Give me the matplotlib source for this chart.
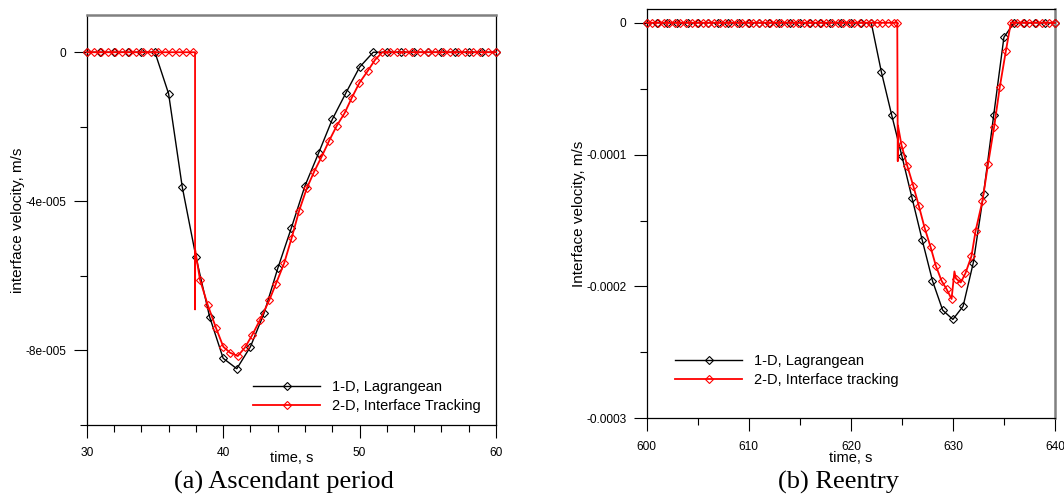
import matplotlib
matplotlib.use("Agg")
import matplotlib.pyplot as plt
from matplotlib.ticker import FixedLocator, FixedFormatter

plt.rcParams['font.family'] = ['Liberation Sans', 'DejaVu Sans']

# ---------- (a) Ascendant period ----------
lag_a_t = [30, 31, 32, 33, 34, 35, 36, 37, 38, 39, 40, 41, 42, 43, 44, 45,
           46, 47, 48, 49, 50, 51, 52, 53, 54, 55, 56, 57, 58, 59, 60]
lag_a_v = [0, 0, 0, 0, 0, 0, -1.11e-5, -3.61e-5, -5.48e-5, -7.09e-5, -8.21e-5,
           -8.49e-5, -7.90e-5, -7.00e-5, -5.80e-5, -4.71e-5, -3.58e-5, -2.70e-5,
           -1.80e-5, -1.09e-5, -0.40e-5, 0, 0, 0, 0, 0, 0, 0, 0, 0, 0]

trk_a_t = [30.0, 30.52, 31.04, 31.56, 32.08, 32.6, 33.12, 33.64, 34.16, 34.68,
           35.2, 35.72, 36.24, 36.76, 37.28, 37.8, 37.94, 37.94, 37.95,
           38.3, 38.87, 39.48, 40.01, 40.5, 41.07, 41.6, 42.14, 42.7, 43.37,
           43.86, 44.47, 45.03, 45.57, 46.13, 46.66, 47.22, 47.76, 48.33, 48.89,
           49.43, 49.99, 50.58, 51.14, 51.67, 52.2, 52.76, 53.31, 53.87, 54.42,
           54.98, 55.53, 56.09, 56.64, 57.2, 57.75, 58.31, 58.86, 59.42, 60.0]
trk_a_v = [0, 0, 0, 0, 0, 0, 0, 0, 0, 0, 0, 0, 0, 0, 0, 0, 0, -6.9e-5, -5.3e-5,
           -6.1e-5, -6.78e-5, -7.40e-5, -7.90e-5, -8.06e-5, -8.15e-5, -7.92e-5,
           -7.58e-5, -7.18e-5, -6.66e-5, -6.22e-5, -5.66e-5, -4.97e-5, -4.25e-5,
           -3.65e-5, -3.21e-5, -2.80e-5, -2.38e-5, -1.97e-5, -1.64e-5, -1.22e-5,
           -0.82e-5, -0.51e-5, -0.20e-5, 0, 0, 0, 0, 0, 0, 0, 0, 0, 0, 0, 0, 0,
           0, 0, 0]
trk_a_nomark = [16, 17, 18]   # jump at interface appearance, drawn without symbols

# ---------- (b) Reentry ----------
lag_b_t = [600, 601, 602, 603, 604, 605, 606, 607, 608, 609, 610, 611, 612, 613,
           614, 615, 616, 617, 618, 619, 620, 621, 622, 623, 624, 625, 626, 627,
           628, 629, 630, 631, 632, 633, 634, 635, 636, 637, 638, 639, 640]
lag_b_v = [0] * 23 + [-3.76e-5, -6.99e-5, -1.01e-4, -1.33e-4, -1.65e-4, -1.957e-4,
                      -2.18e-4, -2.25e-4, -2.15e-4, -1.82e-4, -1.30e-4, -0.70e-4,
                      -0.11e-4, 0, 0, 0, 0, 0]

trk_b_t = [600.0, 600.55, 601.1, 601.65, 602.2, 602.75, 603.3, 603.85, 604.4,
           604.95, 605.5, 606.05, 606.6, 607.15, 607.7, 608.25, 608.8, 609.35,
           609.9, 610.45, 611.0, 611.55, 612.1, 612.65, 613.2, 613.75, 614.3,
           614.85, 615.4, 615.95, 616.5, 617.05, 617.6, 618.15, 618.7, 619.25,
           619.8, 620.35, 620.9, 621.45, 622.0, 622.55, 623.1, 623.65, 624.2,
           624.55, 624.6, 624.62,
           624.97, 625.52, 626.11, 626.67, 627.22, 627.81, 628.33, 628.89, 629.38,
           629.87, 630.15, 630.3, 630.77, 631.23, 631.82, 632.22, 632.9, 633.45,
           634.04, 634.6, 635.19, 635.68, 636.3, 636.9, 637.5, 638.1, 638.75,
           639.4, 640.0]
trk_b_v = [0] * 46 + [-1.05e-4, -0.78e-4,
                      -0.93e-4, -1.083e-4, -1.235e-4, -1.39e-4, -1.553e-4, -1.70e-4,
                      -1.843e-4, -1.957e-4, -2.02e-4, -2.095e-4, -1.886e-4, -1.94e-4,
                      -1.97e-4, -1.90e-4, -1.77e-4, -1.58e-4, -1.35e-4, -1.07e-4,
                      -0.79e-4, -0.485e-4, -0.214e-4, 0, 0, 0, 0, 0, 0, 0, 0]
trk_b_nomark = [46, 47, 58]

fig = plt.figure(figsize=(10.64, 4.99), dpi=100)
ax1 = fig.add_axes([0.0815, 0.1483, 0.3847, 0.8217])
ax2 = fig.add_axes([0.6078, 0.1617, 0.3837, 0.8202])


def style_axes(ax, gray_side):
    for s in ax.spines.values():
        s.set_linewidth(0.9)
        s.set_color('black')
    ax.spines[gray_side].set_color('#808080')
    ax.spines[gray_side].set_linewidth(1.8)
    ax.tick_params(which='major', direction='out', length=9.5, width=0.8, labelsize=8.6)
    ax.tick_params(which='minor', direction='out', length=4.8, width=0.8)
    ax.tick_params(axis='x', which='major', pad=6.5)
    ax.tick_params(axis='y', which='major', pad=5)
    ax.tick_params(top=False, right=False, which='both')


def draw(ax, lt, lv, rt, rv, nomark, label2):
    ax.plot(lt, lv, color='black', lw=1.0, marker='D', ms=4, mfc='none',
            mec='black', mew=0.8, clip_on=False, label='1-D, Lagrangean', zorder=3)
    marks = [i for i in range(len(rt)) if i not in nomark]
    ax.plot(rt, rv, color='red', lw=1.3, marker='D', ms=4, mfc='none',
            mec='red', mew=0.8, markevery=marks, clip_on=False, label=label2, zorder=4)


draw(ax1, lag_a_t, lag_a_v, trk_a_t, trk_a_v, trk_a_nomark, '2-D, Interface Tracking')
draw(ax2, lag_b_t, lag_b_v, trk_b_t, trk_b_v, trk_b_nomark, '2-D, Interface tracking')

# axis (a)
ax1.set_xlim(30, 60)
ax1.set_ylim(-1e-4, 1e-5)
ax1.xaxis.set_major_locator(FixedLocator([30, 40, 50, 60]))
ax1.xaxis.set_minor_locator(FixedLocator([32, 34, 36, 38, 42, 44, 46, 48, 52, 54, 56, 58]))
ax1.yaxis.set_major_locator(FixedLocator([-8e-5, -4e-5, 0]))
ax1.yaxis.set_major_formatter(FixedFormatter(['-8e-005', '-4e-005', '0']))
ax1.yaxis.set_minor_locator(FixedLocator([-1e-4, -6e-5, -2e-5]))
style_axes(ax1, 'top')

# axis (b)
ax2.set_xlim(600, 640)
ax2.set_ylim(-3e-4, 1.04e-5)
ax2.xaxis.set_major_locator(FixedLocator([600, 610, 620, 630, 640]))
ax2.xaxis.set_minor_locator(FixedLocator([605, 615, 625, 635]))
ax2.yaxis.set_major_locator(FixedLocator([-3e-4, -2e-4, -1e-4, 0]))
ax2.yaxis.set_major_formatter(FixedFormatter(['-0.0003', '-0.0002', '-0.0001', '0']))
ax2.yaxis.set_minor_locator(FixedLocator([-2.5e-4, -1.5e-4, -0.5e-4]))
style_axes(ax2, 'right')

# labels
ax1.text(0.5, -0.0805, 'time, s', transform=ax1.transAxes, ha='center', va='center', fontsize=10.5)
ax2.text(0.5, -0.097, 'time, s', transform=ax2.transAxes, ha='center', va='center', fontsize=10.5)
ax1.text(-0.169, 0.5, 'interface velocity, m/s', transform=ax1.transAxes, rotation=90,
         ha='center', va='center', fontsize=11)
ax2.text(-0.166, 0.5, 'Interface velocity, m/s', transform=ax2.transAxes, rotation=90,
         ha='center', va='center', fontsize=11)

leg_kw = dict(loc='upper left', frameon=False, fontsize=10.5, handlelength=4.6,
              handletextpad=0.8, labelspacing=0.32, borderpad=0, borderaxespad=0,
              numpoints=1, bbox_transform=fig.transFigure)
ax1.legend(bbox_to_anchor=(0.2378, 0.2380), **leg_kw)
ax2.legend(bbox_to_anchor=(0.6344, 0.2900), **leg_kw)

fig.text(283.5 / 1064, 1 - 482 / 499, '(a) Ascendant period', ha='center', va='center',
         fontsize=19, family='Liberation Serif')
fig.text(839 / 1064, 1 - 482 / 499, '(b) Reentry', ha='center', va='center',
         fontsize=19, family='Liberation Serif')

fig.savefig('out.png', dpi=100)
